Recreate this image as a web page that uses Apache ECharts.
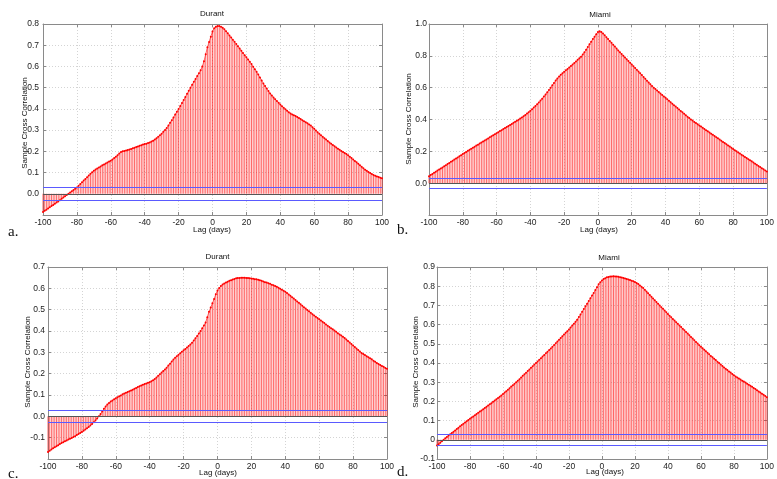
<!DOCTYPE html>
<html><head><meta charset="utf-8">
<script src="https://cdn.jsdelivr.net/npm/echarts@6/dist/echarts.min.js"></script>
<style>html,body{margin:0;padding:0;background:#fff}#c{width:777px;height:479px}</style>
</head><body><div id="c"></div>
<script>
// Lags (days)
const lags = [];
for (let i = -100; i <= 100; i++) lags.push(i);

// a. Durant (top)
const durantA = [
-0.086,-0.080,-0.075,-0.069,-0.064,-0.058,-0.053,-0.047,-0.041,-0.036,
-0.030,-0.024,-0.018,-0.012,-0.006,0.000,0.006,0.012,0.018,0.024,
0.030,0.038,0.046,0.054,0.062,0.070,0.078,0.086,0.094,0.101,
0.108,0.114,0.119,0.124,0.129,0.134,0.138,0.143,0.147,0.152,
0.156,0.162,0.168,0.175,0.182,0.190,0.197,0.200,0.202,0.204,
0.206,0.209,0.211,0.214,0.217,0.220,0.223,0.226,0.229,0.232,
0.234,0.236,0.239,0.242,0.246,0.250,0.256,0.262,0.269,0.276,
0.283,0.292,0.301,0.310,0.322,0.335,0.347,0.360,0.373,0.387,
0.400,0.414,0.428,0.442,0.456,0.471,0.485,0.500,0.514,0.528,
0.541,0.555,0.568,0.582,0.600,0.625,0.658,0.690,0.715,0.740,
0.765,0.780,0.787,0.790,0.790,0.787,0.782,0.775,0.766,0.756,
0.746,0.736,0.726,0.716,0.706,0.695,0.685,0.674,0.663,0.653,
0.643,0.633,0.622,0.611,0.599,0.587,0.575,0.562,0.548,0.534,
0.520,0.508,0.496,0.484,0.473,0.463,0.454,0.445,0.437,0.429,
0.421,0.413,0.405,0.398,0.391,0.384,0.378,0.374,0.370,0.366,
0.362,0.357,0.352,0.347,0.342,0.337,0.332,0.327,0.322,0.314,
0.306,0.298,0.290,0.283,0.276,0.269,0.262,0.256,0.249,0.242,
0.236,0.230,0.224,0.218,0.212,0.207,0.202,0.197,0.192,0.187,
0.182,0.175,0.168,0.161,0.155,0.148,0.141,0.134,0.127,0.120,
0.113,0.108,0.103,0.098,0.093,0.088,0.085,0.082,0.079,0.076,
0.073];

// b. Miami (top)
const miamiB = [
0.044,0.051,0.058,0.065,0.072,0.079,0.086,0.092,0.099,0.106,
0.113,0.120,0.127,0.134,0.141,0.148,0.155,0.162,0.169,0.176,
0.183,0.190,0.196,0.203,0.210,0.216,0.223,0.229,0.236,0.242,
0.249,0.255,0.262,0.268,0.275,0.281,0.288,0.294,0.301,0.307,
0.314,0.320,0.327,0.333,0.340,0.346,0.353,0.359,0.366,0.372,
0.379,0.386,0.392,0.399,0.406,0.413,0.421,0.429,0.437,0.446,
0.455,0.465,0.475,0.485,0.496,0.507,0.519,0.531,0.544,0.557,
0.571,0.585,0.600,0.615,0.630,0.645,0.658,0.670,0.681,0.691,
0.700,0.709,0.718,0.727,0.736,0.745,0.755,0.765,0.775,0.785,
0.795,0.808,0.823,0.839,0.856,0.873,0.889,0.905,0.920,0.936,
0.950,0.955,0.950,0.940,0.929,0.917,0.905,0.893,0.882,0.870,
0.858,0.846,0.834,0.823,0.811,0.800,0.789,0.778,0.767,0.756,
0.745,0.734,0.723,0.712,0.701,0.690,0.679,0.667,0.656,0.644,
0.633,0.622,0.611,0.600,0.591,0.582,0.572,0.563,0.554,0.545,
0.536,0.527,0.518,0.509,0.499,0.490,0.481,0.472,0.463,0.454,
0.445,0.436,0.427,0.418,0.409,0.400,0.393,0.385,0.378,0.370,
0.363,0.356,0.348,0.341,0.333,0.326,0.319,0.311,0.304,0.296,
0.289,0.282,0.274,0.267,0.259,0.252,0.245,0.237,0.230,0.222,
0.215,0.207,0.200,0.193,0.186,0.179,0.172,0.165,0.158,0.151,
0.144,0.137,0.130,0.122,0.115,0.108,0.101,0.094,0.087,0.080,
0.073];

// c. Durant (bottom)
const durantC = [
-0.167,-0.161,-0.155,-0.150,-0.145,-0.140,-0.135,-0.130,-0.125,-0.121,
-0.117,-0.113,-0.109,-0.105,-0.101,-0.097,-0.093,-0.088,-0.083,-0.078,
-0.073,-0.067,-0.062,-0.056,-0.050,-0.043,-0.036,-0.028,-0.020,-0.010,
0.000,0.011,0.023,0.035,0.046,0.056,0.063,0.069,0.074,0.080,
0.085,0.089,0.094,0.098,0.103,0.107,0.111,0.114,0.118,0.121,
0.125,0.129,0.133,0.137,0.141,0.145,0.148,0.151,0.154,0.157,
0.160,0.164,0.169,0.175,0.182,0.190,0.197,0.205,0.212,0.220,
0.228,0.238,0.247,0.257,0.266,0.275,0.282,0.289,0.296,0.303,
0.310,0.316,0.323,0.330,0.337,0.345,0.355,0.366,0.377,0.388,
0.400,0.413,0.426,0.440,0.465,0.490,0.510,0.530,0.550,0.572,
0.590,0.602,0.611,0.618,0.623,0.627,0.631,0.635,0.638,0.641,
0.644,0.647,0.648,0.649,0.650,0.650,0.650,0.649,0.648,0.647,
0.646,0.645,0.643,0.642,0.640,0.638,0.635,0.632,0.629,0.627,
0.624,0.621,0.617,0.614,0.611,0.607,0.603,0.598,0.593,0.589,
0.584,0.578,0.571,0.565,0.558,0.552,0.545,0.538,0.532,0.525,
0.518,0.511,0.505,0.498,0.492,0.485,0.479,0.473,0.467,0.461,
0.455,0.449,0.443,0.437,0.431,0.425,0.419,0.413,0.408,0.402,
0.396,0.390,0.384,0.379,0.373,0.367,0.360,0.353,0.346,0.339,
0.332,0.325,0.318,0.311,0.304,0.297,0.292,0.287,0.282,0.277,
0.272,0.267,0.261,0.256,0.250,0.245,0.241,0.236,0.232,0.227,
0.223];

// d. Miami (bottom)
const miamiD = [
-0.030,-0.023,-0.015,-0.008,0.000,0.008,0.015,0.022,0.029,0.036,
0.042,0.049,0.056,0.063,0.070,0.077,0.084,0.090,0.097,0.103,
0.110,0.116,0.122,0.128,0.135,0.141,0.147,0.153,0.159,0.166,
0.172,0.178,0.185,0.191,0.198,0.205,0.211,0.218,0.224,0.231,
0.238,0.246,0.253,0.261,0.269,0.277,0.284,0.292,0.300,0.308,
0.316,0.324,0.333,0.341,0.349,0.358,0.366,0.375,0.383,0.392,
0.400,0.408,0.417,0.425,0.434,0.442,0.451,0.459,0.468,0.476,
0.485,0.494,0.503,0.512,0.521,0.530,0.539,0.548,0.557,0.566,
0.575,0.585,0.595,0.605,0.615,0.625,0.639,0.653,0.667,0.681,
0.695,0.709,0.723,0.737,0.751,0.765,0.780,0.795,0.810,0.821,
0.830,0.837,0.842,0.846,0.848,0.850,0.851,0.852,0.851,0.850,
0.849,0.847,0.845,0.843,0.840,0.838,0.835,0.832,0.829,0.826,
0.822,0.817,0.811,0.804,0.797,0.790,0.781,0.772,0.763,0.754,
0.745,0.736,0.727,0.718,0.709,0.700,0.691,0.682,0.673,0.664,
0.655,0.646,0.638,0.629,0.621,0.612,0.604,0.595,0.587,0.578,
0.570,0.561,0.553,0.544,0.536,0.527,0.519,0.510,0.502,0.493,
0.485,0.477,0.469,0.461,0.453,0.445,0.437,0.430,0.422,0.415,
0.407,0.400,0.392,0.385,0.377,0.370,0.363,0.356,0.350,0.343,
0.336,0.330,0.325,0.319,0.314,0.308,0.303,0.298,0.292,0.287,
0.282,0.276,0.270,0.264,0.258,0.252,0.246,0.240,0.234,0.228,
0.222];

const confBound = 0.029;
const titles = ['Durant', 'Miami', 'Durant', 'Miami'];
const letters = ['a.', 'b.', 'c.', 'd.'];
const yLimits = [[-0.1, 0.8, 0.1], [-0.2, 1.0, 0.2], [-0.2, 0.7, 0.1], [-0.1, 0.9, 0.1]];
const values = [durantA, miamiB, durantC, miamiD];

// layout
const grids = [
  {left: 43, top: 24, width: 339, height: 191},
  {left: 429, top: 24, width: 341, height: 191},
  {left: 48, top: 267, width: 339, height: 192},
  {left: 437, top: 267, width: 335, height: 192}
];
const yLabelMargin = [4, 2, 3, 2];
const titlePos = [[212, 14], [600, 14.5], [217.5, 257], [609, 258]];
const yNamePos = [[25, 123], [409, 119], [27.5, 362], [415.5, 362]];
const xNamePos = [[212, 230], [599, 230], [218, 473], [605, 472]];
const letterPos = [[8, 232], [397, 230], [8, 474], [397, 472]];

const FONT = '"Liberation Sans", Arial, sans-serif';
const axisColor = '#8a8a8a';
const xAxes = [], yAxes = [], series = [], graphics = [];

function fmtY(panel, v) {
  const lim = yLimits[panel];
  if (Math.abs(v - lim[0]) < 1e-9 && panel !== 3) return '';
  const r = Math.round(v * 10) / 10;
  if (panel === 3 && Math.abs(r) < 1e-9) return '0';
  return r.toFixed(1);
}

grids.forEach((g, i) => {
  const lim = yLimits[i];
  const common = {
    gridIndex: i, type: 'value',
    axisLine: {show: true, onZero: false, lineStyle: {color: axisColor, width: 1}},
    axisTick: {show: true, inside: true, length: 3, lineStyle: {color: axisColor}}
  };
  xAxes.push(Object.assign({}, common, {
    position: 'bottom', min: -100, max: 100, interval: 20,
    axisLabel: {margin: 3, fontSize: 8.5, color: '#222', fontFamily: FONT},
    splitLine: {show: true, lineStyle: {color: '#d4d4d4', type: [1, 2], width: 1}}
  }));
  xAxes.push(Object.assign({}, common, {
    position: 'top', min: -100, max: 100, interval: 20,
    axisLabel: {show: false}, splitLine: {show: false}
  }));
  yAxes.push(Object.assign({}, common, {
    position: 'left', min: lim[0], max: lim[1], interval: lim[2],
    axisLabel: {margin: yLabelMargin[i], fontSize: 8.5, color: '#222', fontFamily: FONT,
      formatter: v => fmtY(i, v)},
    splitLine: {show: true, lineStyle: {color: '#d4d4d4', type: [1, 2], width: 1}}
  }));
  yAxes.push(Object.assign({}, common, {
    position: 'right', min: lim[0], max: lim[1], interval: lim[2],
    axisLabel: {show: false}, splitLine: {show: false}
  }));

  const data = lags.map((l, k) => [l, values[i][k]]);
  series.push({
    type: 'bar', xAxisIndex: 2 * i, yAxisIndex: 2 * i, data: data,
    barWidth: 1, itemStyle: {color: 'rgba(255,0,0,0.6)'},
    silent: true, animation: false
  });
  series.push({
    type: 'line', xAxisIndex: 2 * i, yAxisIndex: 2 * i, data: data,
    symbol: 'circle', symbolSize: 2, showSymbol: true,
    itemStyle: {color: '#ff0000'},
    lineStyle: {color: '#ff2020', width: 0.7},
    silent: true, animation: false, z: 3,
    markLine: {
      silent: true, symbol: 'none', animation: false,
      label: {show: false},
      data: [
        {yAxis: 0, lineStyle: {color: '#555555', width: 1, type: 'solid'}},
        {yAxis: confBound, lineStyle: {color: '#5a5aff', width: 1.2, type: 'solid'}},
        {yAxis: -confBound, lineStyle: {color: '#5a5aff', width: 1.2, type: 'solid'}}
      ]
    }
  });

  graphics.push({type: 'text', x: titlePos[i][0], y: titlePos[i][1],
    style: {text: titles[i], font: '8px ' + FONT, fill: '#111', align: 'center', verticalAlign: 'middle'}});
  graphics.push({type: 'text', x: xNamePos[i][0], y: xNamePos[i][1],
    style: {text: 'Lag (days)', font: '8px ' + FONT, fill: '#111', align: 'center', verticalAlign: 'middle'}});
  graphics.push({type: 'text', x: yNamePos[i][0], y: yNamePos[i][1], rotation: Math.PI / 2,
    style: {text: 'Sample Cross Correlation', font: '8px ' + FONT, fill: '#111', align: 'center', verticalAlign: 'middle'}});
  graphics.push({type: 'text', x: letterPos[i][0], y: letterPos[i][1],
    style: {text: letters[i], font: '15px "Liberation Serif", "Times New Roman", serif', fill: '#111', align: 'left', verticalAlign: 'middle'}});
});

const chart = echarts.init(document.getElementById('c'), null, {renderer: 'canvas'});
chart.setOption({
  backgroundColor: '#ffffff',
  animation: false,
  grid: grids.map(g => Object.assign({containLabel: false}, g)),
  xAxis: xAxes,
  yAxis: yAxes,
  series: series,
  graphic: graphics
});
</script>
</body></html>
